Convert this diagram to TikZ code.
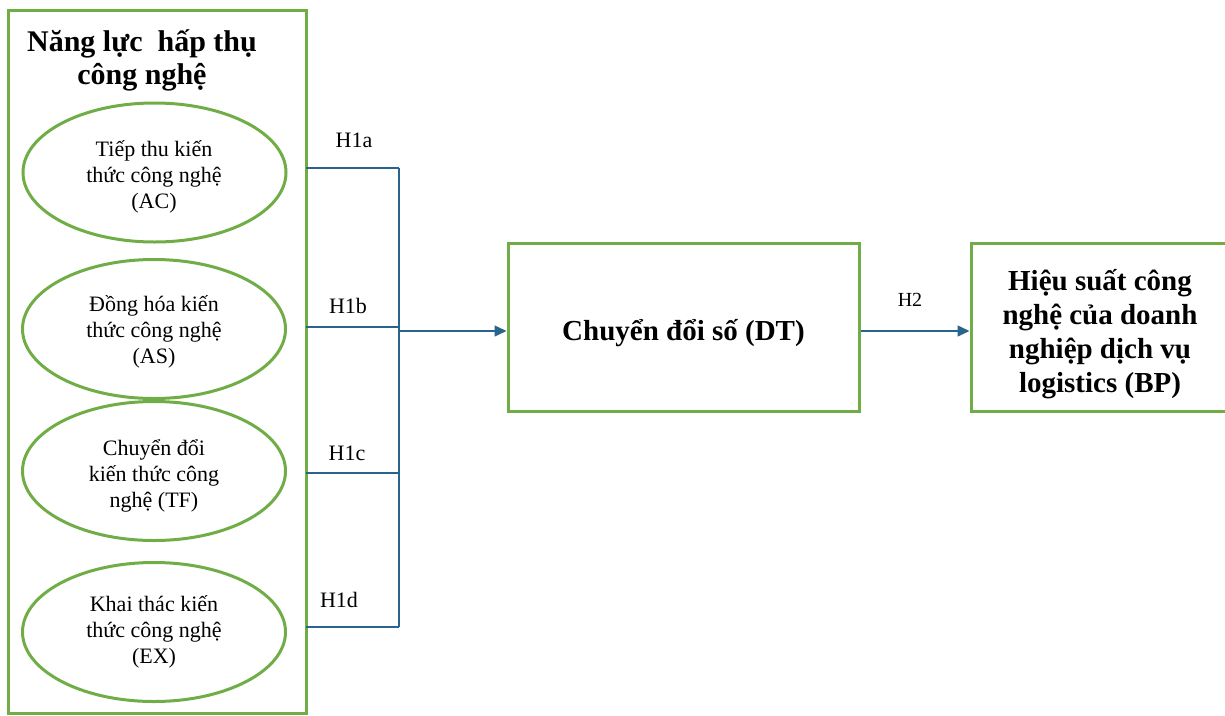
\documentclass[tikz,border=0pt]{standalone}
\usepackage{fontspec}
\setmainfont{Liberation Serif}
\usetikzlibrary{arrows.meta,shapes.geometric}
\definecolor{grn}{RGB}{112,173,71}
\definecolor{blu}{RGB}{40,100,140}
\begin{document}
\begin{tikzpicture}[x=1pt,y=-1pt,
  gbox/.style={draw=grn,line width=3pt,rectangle,inner sep=0pt},
  oval/.style={draw=grn,line width=3pt,ellipse,minimum width=263pt,minimum height=139pt,inner sep=0pt},
  otext/.style={align=center,inner sep=0pt,font=\fontsize{22}{26}\selectfont},
  link/.style={draw=blu,line width=1.4pt},
  tip/.style={-{Triangle[length=12pt,width=11pt]}},
  hlab/.style={font=\fontsize{22}{26}\selectfont,inner sep=0pt},
  bold/.style={font=\bfseries\fontsize{29}{34}\selectfont,align=center,inner sep=0pt}]
\useasboundingbox (0,0) rectangle (1225,715);
% left box
\node[gbox,minimum width=298pt,minimum height=703pt] (L) at (157,361.5) {};
\node[font=\bfseries\fontsize{30}{33}\selectfont,align=center,inner sep=0pt] (title) at (142,60) {Năng lực\enspace hấp thụ\\công nghệ};
% ellipses
\node[oval] (e1) at (154.5,172.5) {};
\node[oval] (e2) at (154,329) {};
\node[oval] (e3) at (154,471) {};
\node[oval] (e4) at (154,632) {};
\node[otext] (t1) at (154,177) {Tiếp thu kiến\\thức công nghệ\\(AC)};
\node[otext] (t2) at (154,332) {Đồng hóa kiến\\thức công nghệ\\(AS)};
\node[otext] (t3) at (154,476) {Chuyển đổi\\kiến thức công\\nghệ (TF)};
\node[otext] (t4) at (154,632) {Khai thác kiến\\thức công nghệ\\(EX)};
% right boxes
\node[gbox,minimum width=351pt,minimum height=168pt] (DT) at (683.5,327) {};
\node[bold] (dtt) at (683.5,333) {Chuyển đổi số (DT)};
\node[gbox,minimum width=260pt,minimum height=168pt] (BP) at (1101,327) {};
\node[bold] (bpt) at (1100,334) {Hiệu suất công\\nghệ của doanh\\nghiệp dịch vụ\\logistics (BP)};
% connectors
\coordinate (p1) at (306,168); \coordinate (q1) at (399,168);
\coordinate (p2) at (306,327); \coordinate (q2) at (399,327);
\coordinate (p3) at (306,473); \coordinate (q3) at (399,473);
\coordinate (p4) at (306,627); \coordinate (q4) at (399,627);
\coordinate (j) at (399,331);
\draw[link] (p1) -- (q1);
\draw[link] (p2) -- (q2);
\draw[link] (p3) -- (q3);
\draw[link] (p4) -- (q4);
\draw[link] (q1) -- (q4);
\draw[link,tip] (j) -- (DT.west |- j);
\draw[link,tip] (DT.east |- j) -- (BP.west |- j);
% labels
\node[hlab] (h1a) at (354,140) {H1a};
\node[hlab] (h1b) at (348,306) {H1b};
\node[hlab] (h1c) at (347,453) {H1c};
\node[hlab] (h1d) at (339,600) {H1d};
\node[hlab,font=\fontsize{20}{24}\selectfont] (h2) at (910,300) {H2};
\end{tikzpicture}
\end{document}
